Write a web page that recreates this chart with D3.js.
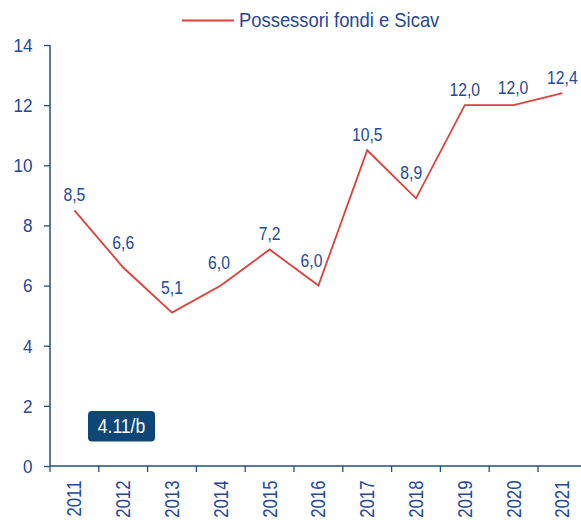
<!DOCTYPE html>
<html><head><meta charset="utf-8">
<script src="https://cdn.jsdelivr.net/npm/d3@7"></script>
<style>body{margin:0;background:#fff}svg{display:block;font-family:"Liberation Sans",Arial,sans-serif}</style>
</head><body>
<script>
const years = ["2011","2012","2013","2014","2015","2016","2017","2018","2019","2020","2021"];
const values = [8.5, 6.6, 5.1, 6.0, 7.2, 6.0, 10.5, 8.9, 12.0, 12.0, 12.4];
const yTicks = [0, 2, 4, 6, 8, 10, 12, 14];
const seriesName = "Possessori fondi e Sicav";
const badgeText = "4.11/b";

const W = 581, H = 520;
const mLeft = 50, mTop = 45, mBottom = 466, bandW = 48.8;
const textCol = "#24489a", axisCol = "#1f4e8c", lineCol = "#e0403c";

const svg = d3.select("body").append("svg").attr("width", W).attr("height", H);

const x = d3.scaleBand().domain(years).range([mLeft, mLeft + bandW * years.length]);
const y = d3.scaleLinear().domain([0, 14]).range([mBottom, mTop]);

// helper: condensed text
function ctext(g, tx, ty, str, size, sx, anchor, fill, rot) {
  return g.append("text")
    .attr("transform", `translate(${tx},${ty})${rot ? ` rotate(${rot})` : ""} scale(${sx},1)`)
    .attr("text-anchor", anchor).attr("fill", fill).attr("font-size", size).text(str);
}

// y axis
const ya = svg.append("g").attr("transform", `translate(${mLeft},0)`)
  .call(d3.axisLeft(y).tickValues(yTicks).tickSize(6).tickSizeOuter(0).tickFormat(""));
ya.select(".domain").attr("stroke", axisCol).attr("stroke-width", 1.5).attr("d", `M0,${mBottom}V${mTop}`);
ya.selectAll(".tick line").attr("stroke", axisCol).attr("stroke-width", 1.3);
yTicks.forEach(t => ctext(svg, mLeft - 17.5, y(t) + 6.8, String(t), 19, 0.9, "end", textCol));

// x axis
svg.append("line").attr("x1", mLeft).attr("x2", W).attr("y1", mBottom).attr("y2", mBottom)
  .attr("stroke", axisCol).attr("stroke-width", 1.5);
const bounds = years.map(d => x(d)).concat([x(years[years.length - 1]) + x.bandwidth()]);
svg.selectAll(".xt").data(bounds).enter().append("line")
  .attr("x1", d => d).attr("x2", d => d).attr("y1", mBottom).attr("y2", mBottom + 6)
  .attr("stroke", axisCol).attr("stroke-width", 1.3);
years.forEach(d => ctext(svg, x(d) + x.bandwidth() / 2 + 7, mBottom + 14.5, d, 19.5, 0.86, "end", textCol, -90));

// line
const cx = d => x(d) + x.bandwidth() / 2;
const pts = values.map((v, i) => [cx(years[i]), y(v)]);
svg.append("path").datum(values)
  .attr("fill", "none").attr("stroke", lineCol).attr("stroke-width", 1.8)
  .attr("d", d3.line().x((d, i) => cx(years[i])).y(d => y(d)));

// value labels: lifted above the line where neighbours rise, nudged left before steep climbs
function riseAt(i, side, w) {
  const j = i + side;
  if (j < 0 || j >= pts.length) return 0;
  const slope = (pts[i][1] - pts[j][1]) / Math.abs(pts[j][0] - pts[i][0]);
  return Math.max(0, slope * w);
}
values.forEach((v, i) => {
  const lr = riseAt(i, -1, 10), rr = riseAt(i, 1, 10);
  const dy = 9 + Math.min(10, Math.max(lr, rr));
  const dx = rr > lr ? -Math.min(7, rr * 0.25) : 0;
  ctext(svg, pts[i][0] + dx, pts[i][1] - dy, d3.format(".1f")(v).replace(".", ","), 18.5, 0.85, "middle", textCol);
});

// legend
svg.append("line").attr("x1", 182).attr("x2", 234).attr("y1", 20.5).attr("y2", 20.5)
  .attr("stroke", lineCol).attr("stroke-width", 1.8);
ctext(svg, 239, 26.7, seriesName, 20, 0.92, "start", textCol);

// badge
svg.append("rect").attr("x", 88).attr("y", 411).attr("width", 67).attr("height", 30.5).attr("rx", 4)
  .attr("fill", "#0d4677");
ctext(svg, 121.5, 433.3, badgeText, 19.5, 0.9, "middle", "#fff");
</script>
</body></html>
